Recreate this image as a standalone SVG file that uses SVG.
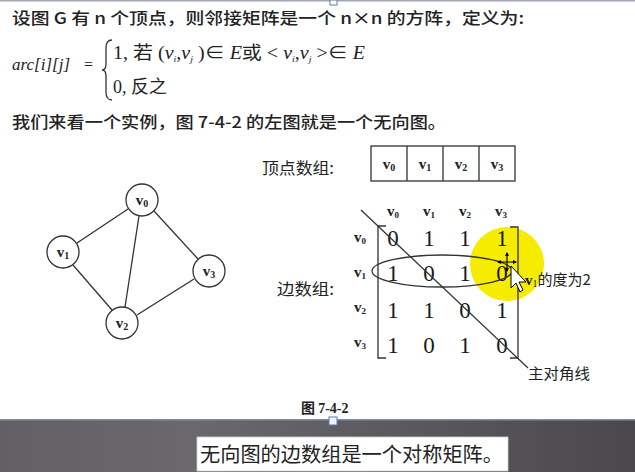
<svg xmlns="http://www.w3.org/2000/svg" width="635" height="472" viewBox="0 0 635 472">
<style>
.cn{font-family:"Noto Sans CJK SC","Liberation Sans",sans-serif;fill:#222}
.sf{font-family:"Liberation Serif","Noto Sans CJK SC",serif;fill:#222}
.vl{font-family:"Liberation Serif",serif;font-weight:bold;fill:#222;font-size:15px;text-anchor:middle}
.dg{font-family:"Liberation Serif",serif;fill:#1a1a1a;font-size:23px;text-anchor:middle}
.ln{stroke:#333;stroke-width:1.3;fill:none}
.nd{stroke:#333;stroke-width:1.3;fill:#fff}
</style>
<defs>
<linearGradient id="band" x1="0" y1="0" x2="1" y2="0">
<stop offset="0" stop-color="#626065"/>
<stop offset="0.3" stop-color="#6a686d"/>
<stop offset="1" stop-color="#4a484d"/>
</linearGradient>
</defs>
<rect width="635" height="472" fill="#fff"/>
<rect x="0" y="0" width="635" height="1.5" fill="#a0a8b4"/>
<rect x="330" y="0" width="7" height="5" fill="#fff" stroke="#5a7fb0" stroke-width="1"/>

<text class="cn" x="12" y="24" font-size="16" font-weight="500" textLength="512" lengthAdjust="spacingAndGlyphs">设图 G 有 n 个顶点，则邻接矩阵是一个 n×n 的方阵，定义为:</text>

<text class="sf" x="12" y="70" font-size="16" font-style="italic" textLength="58" lengthAdjust="spacingAndGlyphs">arc[i][j]</text>
<text class="sf" x="84" y="70" font-size="16">=</text>
<path class="ln" d="M112,40 Q106,40 106,48 L106,64 Q106,70 102,70 Q106,70 106,76 L106,92 Q106,100 112,100" stroke-width="1.5"/>
<text class="sf" x="113" y="59" font-size="18" textLength="252" lengthAdjust="spacingAndGlyphs">1, 若 (<tspan font-style="italic">v</tspan><tspan font-size="9" dy="3" font-style="italic">i</tspan><tspan dy="-3">,</tspan><tspan font-style="italic">v</tspan><tspan font-size="9" dy="3" font-style="italic">j</tspan><tspan dy="-3"> )∈ </tspan><tspan font-style="italic">E</tspan>或 &lt; <tspan font-style="italic">v</tspan><tspan font-size="9" dy="3" font-style="italic">i</tspan><tspan dy="-3">,</tspan><tspan font-style="italic">v</tspan><tspan font-size="9" dy="3" font-style="italic">j</tspan><tspan dy="-3"> &gt;∈ </tspan><tspan font-style="italic">E</tspan></text>
<text class="sf" x="113" y="93" font-size="18">0, 反之</text>

<text class="cn" x="12" y="128" font-size="16" font-weight="500" textLength="434" lengthAdjust="spacingAndGlyphs">我们来看一个实例，图 7-4-2 的左图就是一个无向图。</text>

<!-- vertex array -->
<g id="vertex-array">
<text class="cn" x="262" y="174" font-size="16" fill="#333" textLength="72" lengthAdjust="spacingAndGlyphs">顶点数组:</text>
<rect x="371" y="146" width="144" height="35" fill="none" stroke="#333" stroke-width="1.3"/>
<line class="ln" x1="407" y1="146" x2="407" y2="181"/>
<line class="ln" x1="443" y1="146" x2="443" y2="181"/>
<line class="ln" x1="479" y1="146" x2="479" y2="181"/>
<text class="vl" x="389" y="169">v<tspan font-size="10" dy="2">0</tspan></text>
<text class="vl" x="425" y="169">v<tspan font-size="10" dy="2">1</tspan></text>
<text class="vl" x="461" y="169">v<tspan font-size="10" dy="2">2</tspan></text>
<text class="vl" x="497" y="169">v<tspan font-size="10" dy="2">3</tspan></text>
</g>

<!-- graph -->
<g id="connectors">
<line class="ln" x1="128" y1="209" x2="77" y2="243"/>
<line class="ln" x1="139" y1="216" x2="125" y2="307"/>
<line class="ln" x1="154" y1="211" x2="198" y2="259"/>
<line class="ln" x1="73" y1="265" x2="112" y2="310"/>
<line class="ln" x1="137" y1="315" x2="194" y2="279"/>
</g>
<g id="v0"><circle class="nd" cx="142" cy="200" r="16"/><text class="vl" x="142" y="205">v<tspan font-size="10" dy="2">0</tspan></text></g>
<g id="v1"><circle class="nd" cx="63" cy="252" r="16"/><text class="vl" x="63" y="257">v<tspan font-size="10" dy="2">1</tspan></text></g>
<g id="v3"><circle class="nd" cx="209" cy="271" r="16"/><text class="vl" x="209" y="276">v<tspan font-size="10" dy="2">3</tspan></text></g>
<g id="v2"><circle class="nd" cx="122" cy="323" r="16"/><text class="vl" x="122" y="328">v<tspan font-size="10" dy="2">2</tspan></text></g>

<!-- edge matrix -->
<g id="edge-matrix">
<text class="cn" x="277" y="295" font-size="16" fill="#333" textLength="57" lengthAdjust="spacingAndGlyphs">边数组:</text>
<circle cx="507" cy="264" r="37" fill="#f5ec00"/>
<text class="vl" x="393" y="216" font-size="13">v<tspan font-size="9" dy="2">0</tspan></text>
<text class="vl" x="429" y="216" font-size="13">v<tspan font-size="9" dy="2">1</tspan></text>
<text class="vl" x="465" y="216" font-size="13">v<tspan font-size="9" dy="2">2</tspan></text>
<text class="vl" x="501" y="216" font-size="13">v<tspan font-size="9" dy="2">3</tspan></text>
<text class="vl" x="360" y="242" font-size="13">v<tspan font-size="9" dy="2">0</tspan></text>
<text class="vl" x="360" y="277" font-size="13">v<tspan font-size="9" dy="2">1</tspan></text>
<text class="vl" x="360" y="312" font-size="13">v<tspan font-size="9" dy="2">2</tspan></text>
<text class="vl" x="360" y="347" font-size="13">v<tspan font-size="9" dy="2">3</tspan></text>
<path class="ln" d="M386,226 L378,226 L378,358 L386,358" stroke-width="1.5"/>
<path class="ln" d="M510,227 L518,227 L518,358 L510,358" stroke-width="1.5"/>
<text class="dg" x="393" y="246">0</text><text class="dg" x="429" y="246">1</text><text class="dg" x="465" y="246">1</text><text class="dg" x="502" y="246" fill="#1c2a90">1</text>
<text class="dg" x="393" y="281">1</text><text class="dg" x="429" y="281">0</text><text class="dg" x="465" y="281">1</text><text class="dg" x="502" y="281" fill="#2a3cb0">0</text>
<text class="dg" x="393" y="318">1</text><text class="dg" x="429" y="318">1</text><text class="dg" x="465" y="318">0</text><text class="dg" x="502" y="318">1</text>
<text class="dg" x="393" y="353">1</text><text class="dg" x="429" y="353">0</text><text class="dg" x="465" y="353">1</text><text class="dg" x="502" y="353">0</text>
<ellipse class="ln" cx="442" cy="271" rx="70" ry="16"/>
<line class="ln" x1="361" y1="210" x2="528" y2="368"/>
<text class="cn" x="528" y="379" font-size="15" fill="#333" textLength="62" lengthAdjust="spacingAndGlyphs">主对角线</text>
<text x="525" y="285" font-size="15" class="cn" fill="#333"><tspan font-family="Liberation Serif" font-weight="bold">v</tspan><tspan font-family="Liberation Serif" font-size="10" dy="2">1</tspan><tspan dy="-2">的度为2</tspan></text>
</g>

<!-- cursor -->
<g id="cursor">
<path d="M507,253 L507,271 M498,262 L516,262" stroke="#000" stroke-width="1.2" fill="none"/>
<path d="M505,256 L507,252 L509,256 Z M505,268 L507,272 L509,268 Z M501,260 L497,262 L501,264 Z M513,260 L517,262 L513,264 Z" fill="#000"/>
<path d="M511,266 L511,288 L516,283 L520,292 L523,290 L519,282 L526,282 Z" fill="#fff" stroke="#000" stroke-width="1"/>
</g>

<text class="cn" x="301" y="413" font-size="14" font-weight="bold" fill="#333">图 <tspan font-family="Liberation Serif">7-4-2</tspan></text>

<rect x="0" y="419" width="635" height="53" fill="url(#band)"/>
<rect x="0" y="419" width="635" height="1.5" fill="#7d8ca3"/>
<rect x="329" y="417" width="8" height="8" fill="#eef6ff" stroke="#5a7fb0" stroke-width="1"/>
<rect x="197" y="437" width="311" height="34" fill="#fff" stroke="#cfcfcf" stroke-width="0.8"/>
<text class="cn" x="200" y="462" font-size="20" fill="#111" textLength="303" lengthAdjust="spacingAndGlyphs">无向图的边数组是一个对称矩阵。</text>
</svg>
